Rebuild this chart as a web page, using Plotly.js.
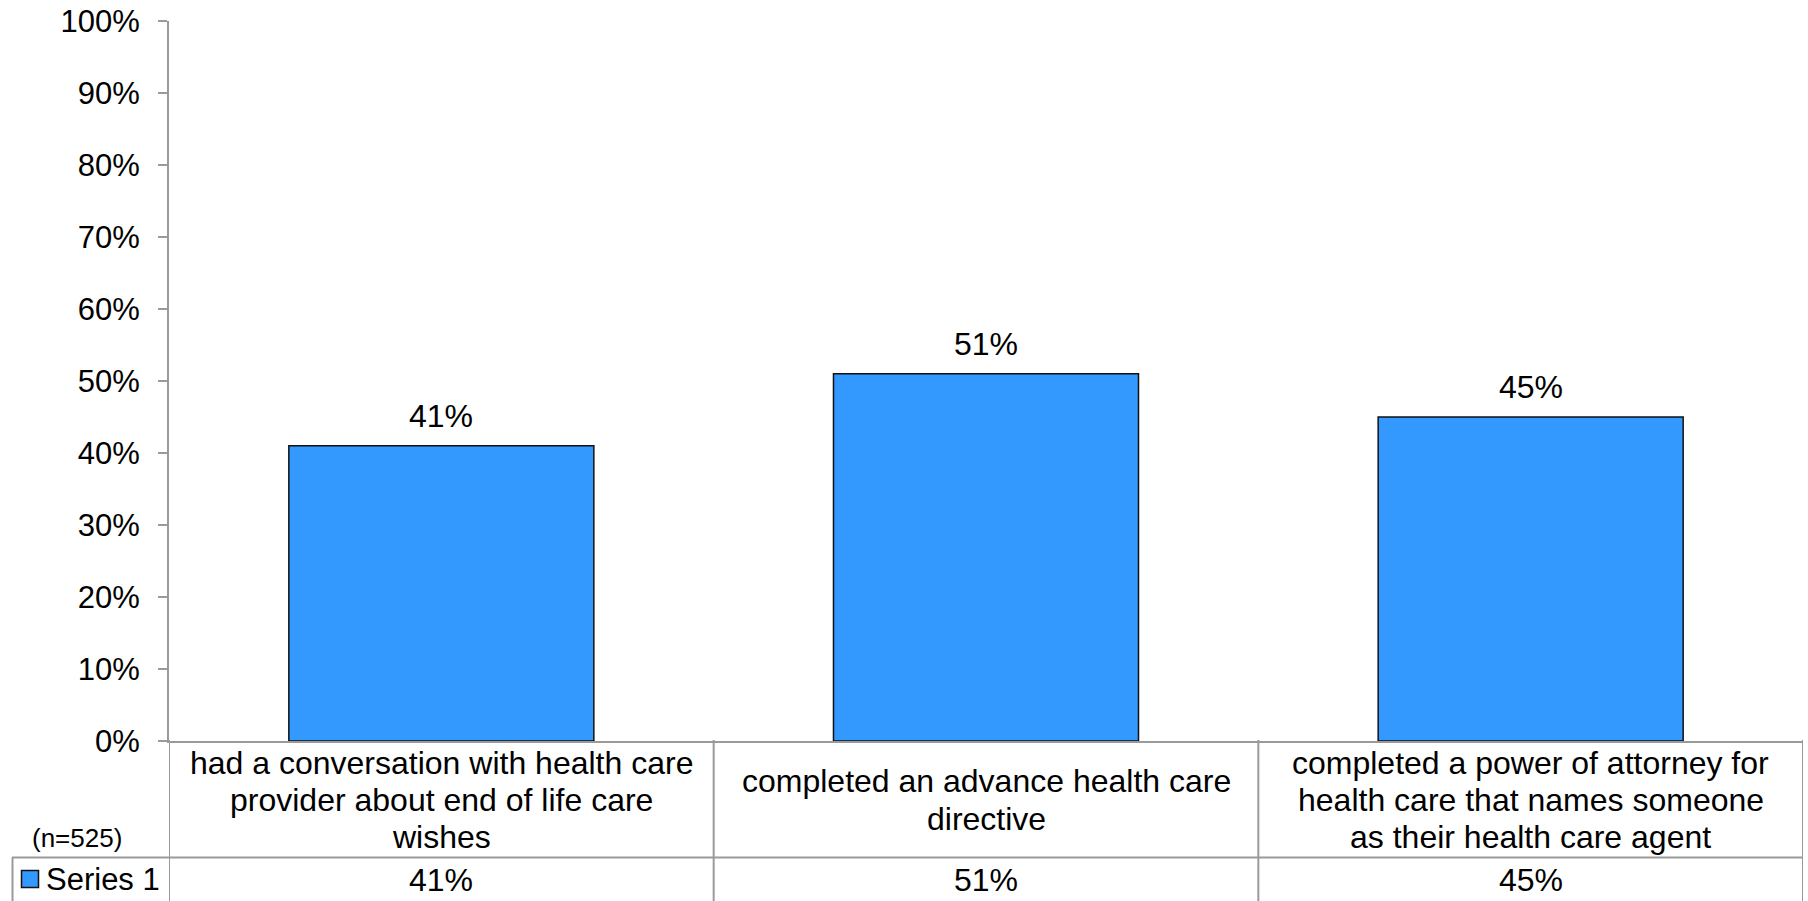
<!DOCTYPE html>
<html>
<head>
<meta charset="utf-8">
<script src="https://cdn.plot.ly/plotly-3.0.1.min.js"></script>
<style>
html,body{margin:0;padding:0;background:#fff;}
#chart{width:1808px;height:901px;}
</style>
</head>
<body>
<div id="chart"></div>
<script>
// ---- data ----
const categories = [
  "had a conversation with health care<br>provider about end of life care<br>wishes",
  "completed an advance health care<br>directive",
  "completed a power of attorney for<br>health care that names someone<br>as their health care agent"
];
const seriesName = "Series 1";
const values = [0.41, 0.51, 0.45];
const valueLabels = ["41%", "51%", "45%"];
const sampleNote = "(n=525)";
const yTickVals = [0,0.1,0.2,0.3,0.4,0.5,0.6,0.7,0.8,0.9,1.0];
const yTickText = ["0%","10%","20%","30%","40%","50%","60%","70%","80%","90%","100%"];

// ---- layout geometry (pixels) ----
const W = 1808, H = 901;
const mL = 169, mR = 5, mT = 21, mB = 160;
const plotH = H - mT - mB;
const py = p => (H - mB - p) / plotH; // pixel y -> paper y
const px = p => (p - mL) / (W - mL - mR); // pixel x -> paper x

const FONT = "Liberation Sans, Arial, sans-serif";
const GRID = "#9a9a9a";
const BLUE = "#3399ff";

const xIdx = categories.map((_, i) => i);

const trace = {
  type: "bar",
  x: xIdx,
  y: values,
  name: seriesName,
  marker: {color: BLUE, line: {color: "#111", width: 1.5}},
  hoverinfo: "skip"
};

const shapes = [];
const line = (xref, x0, x1, y0, y1) => shapes.push({
  type: "line", xref: xref, yref: "paper", x0: x0, x1: x1, y0: y0, y1: y1,
  line: {color: GRID, width: 2}, layer: "above"
});
// horizontal table lines
line("paper", 0, 1, py(857.5), py(857.5));
line("paper", px(12), 0, py(857.5), py(857.5));
// vertical lines
const bounds = [-0.5, 0.5, 1.5, 2.5];
bounds.forEach(b => line("x", b, b, py(740), py(905)));
line("paper", px(12.5), px(12.5), py(857.5), py(905));
// legend swatch
shapes.push({type: "rect", xref: "paper", yref: "paper",
  x0: px(21.5), x1: px(38.5), y0: py(870.5), y1: py(887.5),
  fillcolor: BLUE, line: {color: "#111", width: 1.5}, layer: "above"});

const annotations = [];
// data labels above bars
values.forEach((v, i) => annotations.push({
  x: i, y: v, xref: "x", yref: "y", text: valueLabels[i], showarrow: false,
  yanchor: "bottom", yshift: 10, font: {family: FONT, size: 32, color: "#000"}
}));
// category row (one annotation per text line, tight line spacing)
const LINE_H = 37, ROW_C = 800;
categories.forEach((c, i) => {
  const parts = c.split("<br>");
  parts.forEach((t, k) => annotations.push({
    x: i, y: py(ROW_C + (k - (parts.length - 1) / 2) * LINE_H), xref: "x", yref: "paper",
    text: t, showarrow: false, yanchor: "middle",
    font: {family: FONT, size: 32, color: "#000"}
  }));
});
// value row
valueLabels.forEach((t, i) => annotations.push({
  x: i, y: py(880), xref: "x", yref: "paper", text: t, showarrow: false,
  yanchor: "middle", font: {family: FONT, size: 32, color: "#000"}
}));
// series label
annotations.push({x: px(44), y: py(879), xref: "paper", yref: "paper", text: seriesName,
  showarrow: false, xanchor: "left", yanchor: "middle",
  font: {family: FONT, size: 31, color: "#000"}});
// sample note
annotations.push({x: px(77), y: py(838), xref: "paper", yref: "paper", text: sampleNote,
  showarrow: false, xanchor: "center", yanchor: "middle",
  font: {family: FONT, size: 26, color: "#000"}});

const layout = {
  width: W, height: H,
  margin: {l: mL, r: mR, t: mT, b: mB, pad: 0},
  paper_bgcolor: "#fff", plot_bgcolor: "#fff",
  showlegend: false,
  bargap: 0.44,
  font: {family: FONT, size: 30, color: "#000"},
  xaxis: {
    range: [-0.5, 2.5], showticklabels: false, ticks: "", showgrid: false,
    zeroline: false, showline: true, linecolor: GRID, linewidth: 2, fixedrange: true
  },
  yaxis: {
    range: [0, 1], tickvals: yTickVals, ticktext: yTickText,
    ticks: "outside", ticklen: 9, tickwidth: 2, tickcolor: GRID,
    showline: true, linecolor: GRID, linewidth: 2, showgrid: false, zeroline: false,
    ticklabelstandoff: 12,
    tickfont: {family: FONT, size: 31, color: "#000"}, fixedrange: true
  },
  shapes: shapes,
  annotations: annotations
};

Plotly.newPlot("chart", [trace], layout, {displayModeBar: false, staticPlot: true});
</script>
</body>
</html>
